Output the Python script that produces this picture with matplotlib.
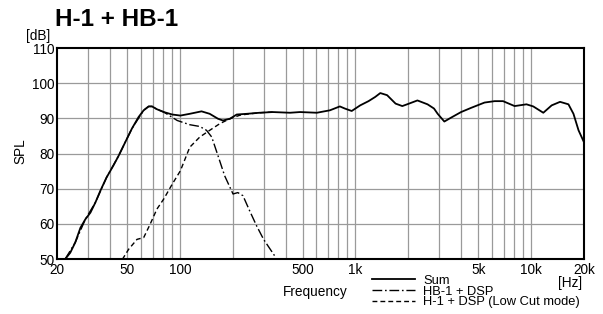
import numpy as np
import matplotlib
matplotlib.use('Agg')
from matplotlib import pyplot as plt
from matplotlib.lines import Line2D

plt.rcParams['font.family'] = ['Liberation Sans', 'DejaVu Sans']

# Sum
sum_f = [22.2, 23.8, 25.4, 27.2, 29.0, 31.0, 33.1, 35.3, 38.3, 41.9, 44.9, 48.9, 53.4, 58.3, 62.3,
         66.5, 69.5, 74.1, 81.1, 90.6, 100.8, 114, 133, 148, 165, 176, 193, 211, 241, 285, 338,
         424, 484, 603, 716, 815, 870, 952, 1064, 1187, 1296, 1385, 1514, 1692, 1848, 2018, 2253,
         2572, 2800, 2938, 3206, 3499, 3993, 4558, 5431, 6197, 6919, 8056, 9410, 10283, 11730,
         13090, 14610, 16310, 17420, 18620, 20000]
sum_db = [49.9, 51.8, 54.7, 58.9, 61.3, 63.2, 66.1, 69.4, 73.2, 76.6, 79.4, 83.2, 87.1, 90.4, 92.3,
          93.4, 93.4, 92.6, 91.8, 91.1, 90.8, 91.3, 92.0, 91.3, 89.9, 89.4, 89.9, 91.1, 91.3, 91.6,
          91.8, 91.6, 91.8, 91.6, 92.3, 93.4, 92.8, 92.1, 93.7, 94.9, 96.1, 97.2, 96.6, 94.2, 93.5,
          94.2, 95.1, 94.0, 92.8, 91.3, 89.1, 90.2, 91.8, 93.0, 94.5, 94.9, 94.9, 93.5, 94.0, 93.4,
          91.6, 93.7, 94.7, 94.0, 91.3, 86.6, 83.2]

# HB-1 + DSP
hb_f = [22.2, 25.4, 29.0, 33.1, 38.3, 44.9, 53.4, 62.3, 66.5, 69.5, 74.1, 81.1, 96.7, 114, 130,
        142, 152, 165, 180, 201, 214, 229, 250, 274, 300, 347]
hb_db = [49.9, 54.7, 61.3, 66.1, 73.2, 79.4, 87.1, 92.3, 93.4, 93.4, 92.6, 91.8, 89.4, 88.2, 87.7,
         86.6, 84.7, 79.4, 73.7, 68.5, 68.9, 68.0, 63.7, 59.4, 55.6, 50.9]

# H-1 + DSP (Low Cut mode)
h1_f = [47.1, 51.2, 57.1, 62.3, 67.8, 74.1, 81.1, 90.6, 100.8, 114, 130, 148, 169, 193, 220, 250,
        285, 338]
h1_db = [49.9, 52.8, 55.6, 56.1, 59.9, 64.2, 67.1, 71.3, 75.1, 81.8, 84.7, 86.6, 88.5, 89.9, 90.9,
         91.3, 91.6, 91.8]

grid_f = [30, 40, 50, 60, 70, 80, 90, 100, 200, 300, 400, 500, 600, 700, 800, 900,
          1000, 2000, 3000, 4000, 5000, 6000, 7000, 8000, 9000, 10000]
xticks = [20, 50, 100, 500, 1000, 5000, 10000, 20000]
xlabels = ['20', '50', '100', '500', '1k', '5k', '10k', '20k']
yticks = [50, 60, 70, 80, 90, 100, 110]

fs = 9.8
fig = plt.figure(figsize=(6.03, 3.14), dpi=100)
ax = fig.add_axes([0.0945, 0.175, 0.874, 0.672])

for f in grid_f:
    ax.axvline(f, color='#9a9a9a', lw=0.9, zorder=1)
for y in yticks[1:-1]:
    ax.axhline(y, color='#9a9a9a', lw=0.9, zorder=1)

ax.plot(sum_f, sum_db, color='black', lw=1.3, zorder=3, solid_joinstyle='round')
ax.plot(hb_f, hb_db, color='black', lw=1.0, dashes=(7, 2, 1.2, 2), zorder=2)
ax.plot(h1_f, h1_db, color='black', lw=1.0, dashes=(3.5, 2.2), zorder=2)

ax.set_xscale('log')
ax.set_xlim(20, 20000)
ax.set_ylim(50, 110)
ax.set_xticks(xticks)
ax.set_xticklabels(xlabels)
ax.xaxis.set_minor_locator(matplotlib.ticker.NullLocator())
ax.set_yticks(yticks)
ax.tick_params(length=0, labelsize=fs)
ax.tick_params(axis='x', pad=3)
ax.tick_params(axis='y', pad=2)
for s in ax.spines.values():
    s.set_linewidth(1.5)

fig.text(0.091, 0.917, 'H-1 + HB-1', fontsize=17.5, fontweight='bold', ha='left', va='baseline')
fig.text(0.084, 0.885, '[dB]', fontsize=fs, ha='right', va='center')
fig.text(0.034, 0.52, 'SPL', fontsize=fs, rotation=90, ha='center', va='center')
fig.text(0.965, 0.098, '[Hz]', fontsize=fs, ha='right', va='center')
fig.text(0.522, 0.07, 'Frequency', fontsize=fs, ha='center', va='center')

handles = [Line2D([], [], color='black', lw=1.3),
           Line2D([], [], color='black', lw=1.0, dashes=(7, 2, 1.2, 2)),
           Line2D([], [], color='black', lw=1.0, dashes=(3.5, 2.2))]
fig.legend(handles, ['Sum', 'HB-1 + DSP', 'H-1 + DSP (Low Cut mode)'],
           loc='upper left', bbox_to_anchor=(0.617, 0.125), frameon=False, fontsize=9.3,
           handlelength=3.35, handletextpad=0.6, labelspacing=-0.1, borderpad=0, borderaxespad=0)

fig.savefig('out.png', dpi=100)
